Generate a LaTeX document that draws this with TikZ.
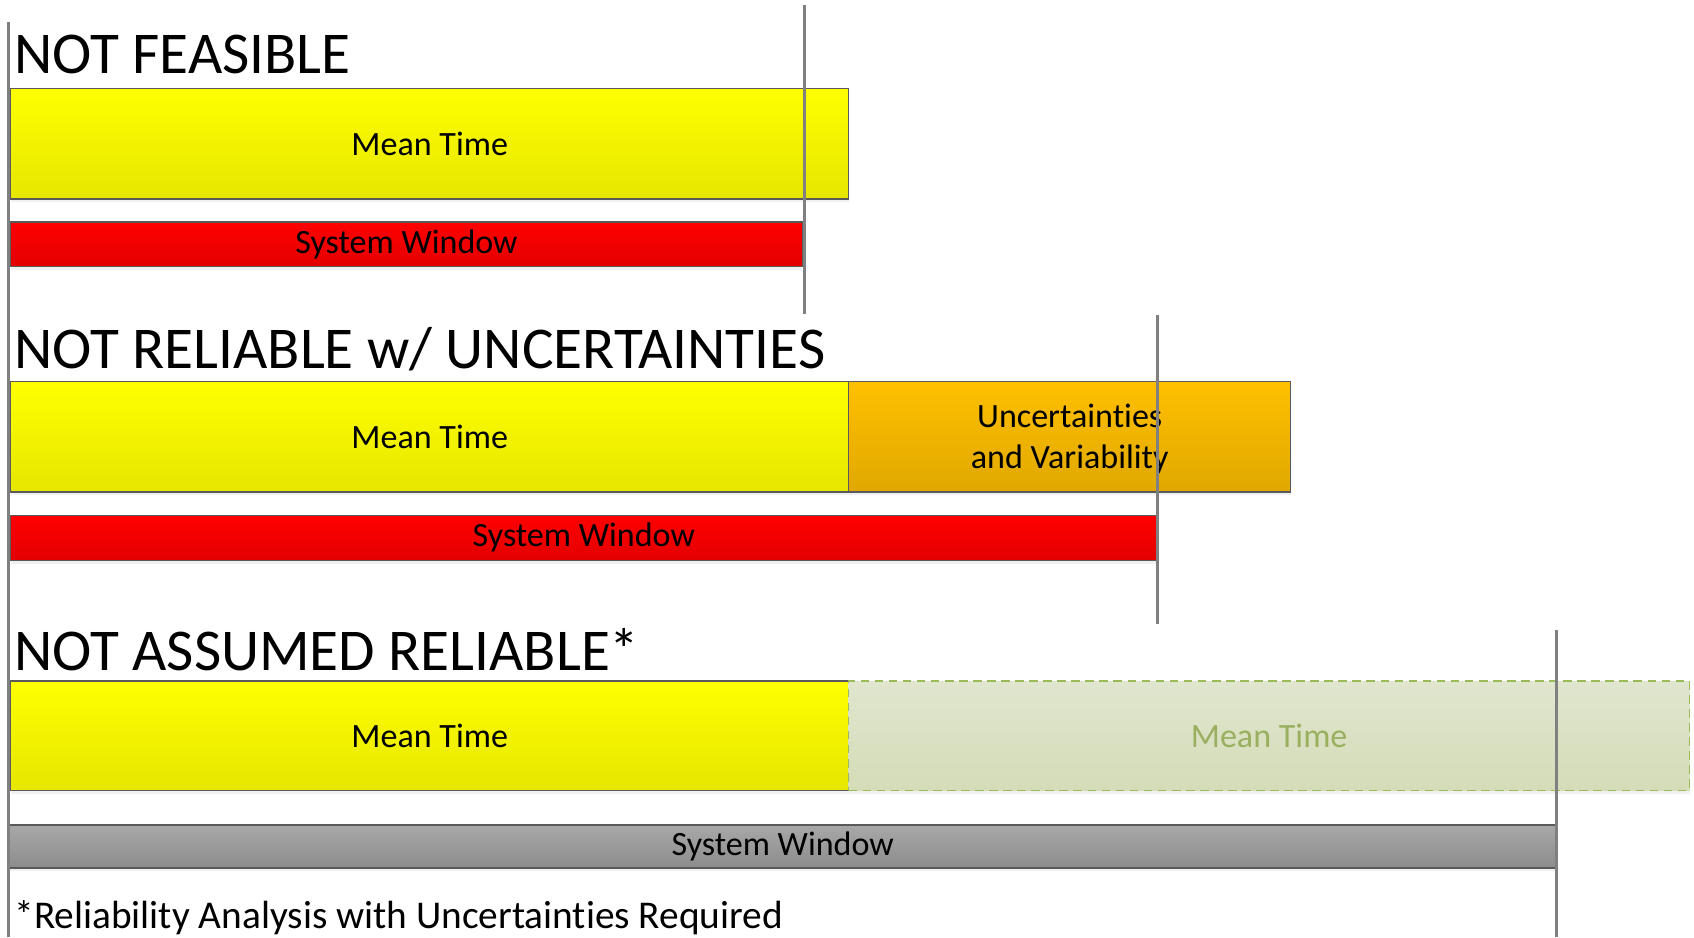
\documentclass[tikz,border=0pt]{standalone}
\usepackage{fontspec}
\setmainfont{Carlito}[Ligatures=NoCommon]
\usetikzlibrary{shadows}
\definecolor{ylwT}{HTML}{FFFF00}
\definecolor{ylwB}{HTML}{E6E600}
\definecolor{redT}{HTML}{FF0000}
\definecolor{redB}{HTML}{E30000}
\definecolor{orgT}{HTML}{FFC000}
\definecolor{orgB}{HTML}{E0A800}
\definecolor{gryT}{HTML}{A8A8A8}
\definecolor{gryB}{HTML}{8C8C8C}
\definecolor{grnT}{HTML}{E0E6CE}
\definecolor{grnB}{HTML}{D4DCB8}
\definecolor{grnL}{HTML}{9BBB59}
\definecolor{grnTx}{HTML}{9AB060}
\definecolor{edge}{HTML}{5A5A5A}
\definecolor{vline}{HTML}{808080}
\begin{document}
\begin{tikzpicture}[x=0.5pt,y=-0.5pt,
  bar/.style={draw=edge,line width=0.6pt,inner sep=0pt,anchor=center,
    font=\fontsize{15.75}{19}\selectfont,
    drop shadow={opacity=0.12,shadow xshift=0pt,shadow yshift=-1.5pt}},
  meanbox/.style={bar,top color=ylwT,bottom color=ylwB,minimum width=387.5pt,minimum height=51pt},
  redwin/.style={bar,top color=redT,bottom color=redB,minimum height=20.75pt},
  title/.style={anchor=base west,inner sep=0pt,font=\fontsize{27.4}{32}\selectfont},
  marker/.style={draw=vline,line width=1.5pt}]
\useasboundingbox (0,0) rectangle (1567,867);
% section 1
\node[title] (t1) at (13,68) {NOT FEASIBLE};
\node[meanbox] (m1) at (397.5,133) {Mean Time};
\node[redwin,minimum width=366pt] (w1) at (376,226) {System Window};
% section 2
\node[title] (t2) at (13,341) {NOT RELIABLE w/ UNCERTAINTIES};
\node[meanbox] (m2) at (397.5,404) {Mean Time};
\node[bar,top color=orgT,bottom color=orgB,minimum width=204.5pt,minimum height=51pt,align=center] (u2) at (989.5,404) {};
\node[align=center,inner sep=0pt,font=\fontsize{15.75}{19}\selectfont] (u2t) at ([yshift=-1pt]u2.center) {Uncertainties\\and Variability};
\node[redwin,minimum width=530pt] (w2) at (540,497.5) {System Window};
% section 3
\node[title] (t3) at (13,620) {NOT ASSUMED RELIABLE*};
\node[meanbox,minimum height=50.5pt] (m3) at (397.5,680.5) {Mean Time};
\node[bar,draw=grnL,dashed,dash pattern=on 4pt off 2.5pt,top color=grnT,bottom color=grnB,text=grnTx,minimum width=389pt,minimum height=50.5pt] (m3b) at (1174,680.5) {Mean Time};
\node[bar,top color=gryT,bottom color=gryB,minimum width=716pt,minimum height=20pt] (w3) at (724,783) {System Window};
\node[anchor=base west,inner sep=0pt,font=\fontsize{18.2}{22}\selectfont] (fn) at (13,859) {*Reliability Analysis with Uncertainties Required};
% vertical markers
\coordinate (a0) at (8,20); \coordinate (a1) at (8,867);
\coordinate (b0) at (744,5); \coordinate (b1) at (744,290);
\coordinate (c0) at (1071,291); \coordinate (c1) at (1071,577);
\coordinate (d0) at (1440,583); \coordinate (d1) at (1440,867);
\draw[marker] (a0) -- (a1);
\draw[marker] (b0) -- (b1);
\draw[marker] (c0) -- (c1);
\draw[marker] (d0) -- (d1);
\end{tikzpicture}
\end{document}
